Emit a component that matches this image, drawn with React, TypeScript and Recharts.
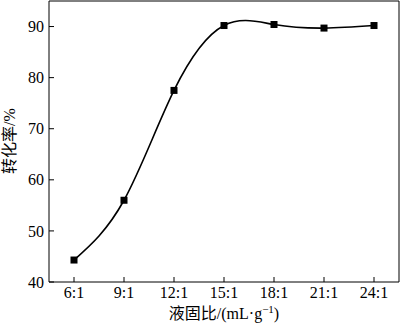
import { LineChart, Line, XAxis, YAxis } from 'recharts';

const ratios = ['6:1', '9:1', '12:1', '15:1', '18:1', '21:1', '24:1'];
const conversion = [44.3, 56.0, 77.5, 90.2, 90.4, 89.7, 90.2];
const yTicks = [40, 50, 60, 70, 80, 90];

const data = ratios.map((ratio, i) => ({ ratio, value: conversion[i] }));

const FONT = "'Liberation Serif', 'Noto Sans CJK SC', serif";
const tickStyle = { fontSize: 16, fill: '#000', fontFamily: FONT };

const SquareDot = (props: any) => {
  const { cx, cy } = props;
  if (cx == null || cy == null) return null;
  return <rect x={cx - 3.5} y={cy - 3.5} width={7} height={7} fill="#000" />;
};

const XLabel = (props: any) => {
  const { viewBox } = props;
  const cx = viewBox.x + viewBox.width / 2;
  return (
    <text x={cx} y={319} textAnchor="middle" fontSize={16} fontFamily={FONT} fill="#000">
      液固比/(mL·g
      <tspan dy={-6} fontSize={11}>−1</tspan>
      <tspan dy={6}>)</tspan>
    </text>
  );
};

const YLabel = () => (
  <text
    x={0}
    y={0}
    transform="translate(15, 141) rotate(-90)"
    textAnchor="middle"
    fontSize={16}
    fontFamily={FONT}
    fill="#000"
  >
    转化率/%
  </text>
);

export default function App() {
  return (
    <div style={{ position: 'absolute', left: 0, top: 0, background: '#fff' }}>
      <LineChart width={400} height={324} data={data} margin={{ top: 0, right: 0, left: 0, bottom: 0 }}>
        <XAxis
          dataKey="ratio"
          height={42}
          padding={{ left: 25, right: 25 }}
          tick={tickStyle}
          tickSize={-5}
          tickMargin={10}
          axisLine={{ stroke: '#000' }}
          tickLine={{ stroke: '#000' }}
          interval={0}
          label={<XLabel />}
        />
        <XAxis
          xAxisId="top"
          dataKey="ratio"
          orientation="top"
          height={1}
          tick={false}
          tickLine={false}
          axisLine={{ stroke: '#000' }}
        />
        <YAxis
          domain={[40, 95]}
          ticks={yTicks}
          width={49}
          tick={tickStyle}
          tickSize={-5}
          tickMargin={10}
          axisLine={{ stroke: '#000' }}
          tickLine={{ stroke: '#000' }}
          label={<YLabel />}
        />
        <YAxis
          yAxisId="right"
          orientation="right"
          width={1}
          domain={[40, 95]}
          tick={false}
          tickLine={false}
          axisLine={{ stroke: '#000' }}
        />
        <Line
          type="natural"
          dataKey="value"
          stroke="#000"
          strokeWidth={1.6}
          dot={<SquareDot />}
          activeDot={false}
          isAnimationActive={false}
        />
      </LineChart>
    </div>
  );
}
